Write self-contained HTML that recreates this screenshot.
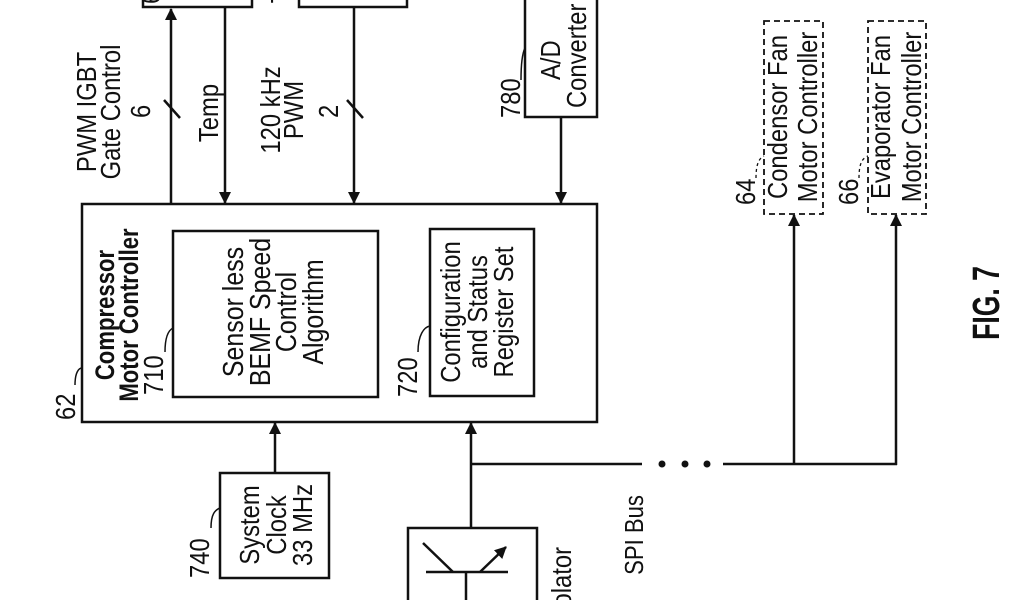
<!DOCTYPE html>
<html><head><meta charset="utf-8"><style>
html,body{margin:0;padding:0;background:#fff;width:1024px;height:600px;overflow:hidden;}
svg{display:block;}
text{font-family:"Liberation Sans",Arial,sans-serif;fill:#111;}
</style></head><body>
<svg width="1024" height="600" viewBox="0 0 1024 600" xmlns="http://www.w3.org/2000/svg" overflow="hidden" font-size="28">
<defs>
<marker id="ah" markerWidth="12" markerHeight="12" refX="11" refY="6" orient="auto" markerUnits="userSpaceOnUse">
<path d="M0,0 L12,6 L0,12 Z" fill="#111"/>
</marker>
</defs>
<g stroke="#111" stroke-width="2.5" fill="none">
<rect x="143" y="-10" width="109" height="17"/>
<rect x="299" y="-10" width="108" height="17"/>
<rect x="525" y="-10" width="72" height="127"/>
<rect x="82" y="204" width="515" height="218"/>
<rect x="173" y="231" width="205" height="166"/>
<rect x="430" y="229" width="104" height="167"/>
<rect x="220" y="473" width="109" height="105"/>
<path d="M408,600 L408,528 L537,528 L537,600"/>
<line x1="171" y1="204" x2="171" y2="9" marker-end="url(#ah)"/>
<line x1="225" y1="7" x2="225" y2="203" marker-end="url(#ah)"/>
<line x1="354" y1="7" x2="354" y2="203" marker-end="url(#ah)"/>
<line x1="561" y1="117" x2="561" y2="203" marker-end="url(#ah)"/>
<line x1="275" y1="473" x2="275" y2="423" marker-end="url(#ah)"/>
<line x1="471" y1="528" x2="471" y2="423" marker-end="url(#ah)"/>
<line x1="164" y1="100" x2="180" y2="118"/>
<line x1="347" y1="100" x2="363" y2="118"/>
<line x1="471" y1="464" x2="642" y2="464"/>
<line x1="723" y1="464" x2="897" y2="464"/>
<line x1="794" y1="464" x2="794" y2="215" marker-end="url(#ah)"/>
<line x1="896" y1="465" x2="896" y2="215" marker-end="url(#ah)"/>
<rect x="764" y="21" width="59" height="193" stroke-dasharray="6,4" stroke-width="1.8"/>
<rect x="868" y="21" width="58" height="193" stroke-dasharray="6,4" stroke-width="1.8"/>
<path d="M521,80 C521,60 523,52 525,48" stroke-width="1.5"/>
<path d="M75,385 C75,372 79,368 82,368" stroke-width="1.5"/>
<path d="M165,352 C165,336 169,330 173,328" stroke-width="1.5"/>
<path d="M418,352 C418,335 424,327 430,326" stroke-width="1.5"/>
<path d="M211,528 C211,514 215,510 220,508" stroke-width="1.5"/>
<path d="M756,178 C756,162 760,158 764,156" stroke-width="1.3" stroke-dasharray="3,3"/>
<path d="M859,178 C859,162 863,158 868,156" stroke-width="1.3" stroke-dasharray="3,3"/>
<line x1="426" y1="572" x2="508" y2="572"/>
<line x1="466" y1="572" x2="466" y2="600"/>
<line x1="453" y1="572" x2="423" y2="543"/>
<line x1="480" y1="572" x2="506" y2="547" marker-end="url(#ah)"/>
</g>
<g fill="#111">
<circle cx="662" cy="464" r="3.5"/><circle cx="685" cy="464" r="3.5"/><circle cx="707" cy="464" r="3.5"/>
</g>
<g text-anchor="middle">
<text transform="translate(96,112) rotate(-90) scale(0.85,1)">PWM IGBT<tspan x="0" dy="24">Gate Control</tspan></text>
<text transform="translate(218,113) rotate(-90) scale(0.85,1)">Temp</text>
<text transform="translate(280,110) rotate(-90) scale(0.85,1)">120 kHz<tspan x="0" dy="23">PWM</tspan></text>
<text transform="translate(114,315) rotate(-90) scale(0.82,1)" style="font-weight:bold;font-size:27px">Compressor<tspan x="0" dy="24">Motor Controller</tspan></text>
<text transform="translate(243,312) rotate(-90) scale(0.86,1)" style="font-size:29px">Sensor less<tspan x="0" dy="27">BEMF Speed</tspan><tspan x="0" dy="26">Control</tspan><tspan x="0" dy="27">Algorithm</tspan></text>
<text transform="translate(460,312) rotate(-90) scale(0.85,1)">Configuration<tspan x="0" dy="27">and Status</tspan><tspan x="0" dy="26">Register Set</tspan></text>
<text transform="translate(259,525) rotate(-90) scale(0.85,1)">System<tspan x="0" dy="27">Clock</tspan><tspan x="0" dy="26">33 MHz</tspan></text>
<text transform="translate(643,535) rotate(-90) scale(0.85,1)" style="font-size:26px">SPI Bus</text>
<text transform="translate(787,117) rotate(-90) scale(0.85,1)">Condensor Fan<tspan x="0" dy="30">Motor Controller</tspan></text>
<text transform="translate(890,117) rotate(-90) scale(0.85,1)">Evaporator Fan<tspan x="0" dy="31">Motor Controller</tspan></text>
<text transform="translate(999,303) rotate(-90) scale(0.7,1)" style="font-weight:bold;font-size:38px">FIG. 7</text>
</g>
<g text-anchor="start">
<text transform="translate(150,118) rotate(-90) scale(0.85,1)">6</text>
<text transform="translate(338,118) rotate(-90) scale(0.85,1)">2</text>
<text transform="translate(560,80) rotate(-90) scale(0.85,1)">A/D</text>
<text transform="translate(586,108) rotate(-90) scale(0.85,1)">Converter</text>
<text transform="translate(520,118) rotate(-90) scale(0.85,1)">780</text>
<text transform="translate(75,420) rotate(-90) scale(0.85,1)">62</text>
<text transform="translate(163,395) rotate(-90) scale(0.85,1)">710</text>
<text transform="translate(417,397) rotate(-90) scale(0.85,1)">720</text>
<text transform="translate(209,578) rotate(-90) scale(0.85,1)">740</text>
<text transform="translate(755,205) rotate(-90) scale(0.85,1)">64</text>
<text transform="translate(858,205) rotate(-90) scale(0.85,1)">66</text>
<text transform="translate(160,4) rotate(-90) scale(0.85,1)">6</text>
<text transform="translate(290,4) rotate(-90) scale(0.85,1)">7</text>
</g>
<text transform="translate(571,547) rotate(-90) scale(0.85,1)" text-anchor="end">Opto Isolator</text>
</svg>
</body></html>
